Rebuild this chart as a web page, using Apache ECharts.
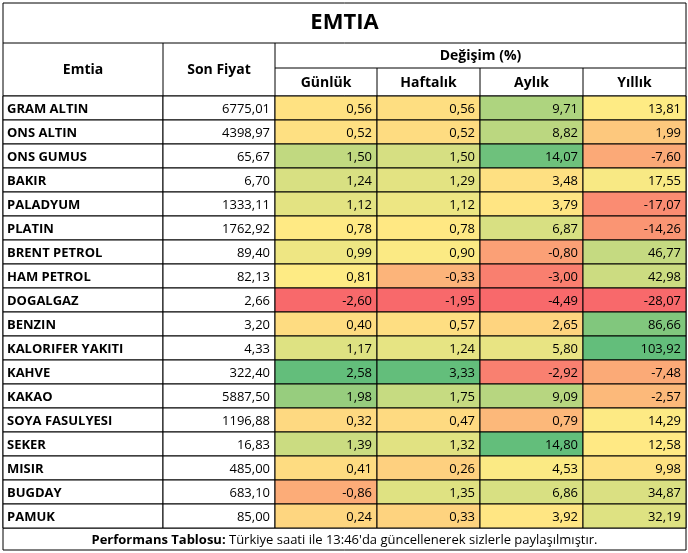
<!DOCTYPE html>
<html>
<head><meta charset="utf-8"></head>
<body style="margin:0;background:#fff">
<div id="container" style="width:688px;height:553px"></div>
<script src="https://cdn.jsdelivr.net/npm/echarts@6/dist/echarts.min.js"></script>
<script>
var names = ['GRAM ALTIN','ONS ALTIN','ONS GUMUS','BAKIR','PALADYUM','PLATIN','BRENT PETROL','HAM PETROL','DOGALGAZ','BENZIN','KALORIFER YAKITI','KAHVE','KAKAO','SOYA FASULYESI','SEKER','MISIR','BUGDAY','PAMUK'];
var prices = ['6775,01','4398,97','65,67','6,70','1333,11','1762,92','89,40','82,13','2,66','3,20','4,33','322,40','5887,50','1196,88','16,83','485,00','683,10','85,00'];
var daily = [0.56,0.52,1.50,1.24,1.12,0.78,0.99,0.81,-2.60,0.40,1.17,2.58,1.98,0.32,1.39,0.41,-0.86,0.24];
var weekly = [0.56,0.52,1.50,1.29,1.12,0.78,0.90,-0.33,-1.95,0.57,1.24,3.33,1.75,0.47,1.32,0.26,1.35,0.33];
var monthly = [9.71,8.82,14.07,3.48,3.79,6.87,-0.80,-3.00,-4.49,2.65,5.80,-2.92,9.09,0.79,14.80,4.53,6.86,3.92];
var yearly = [13.81,1.99,-7.60,17.55,-17.07,-14.26,46.77,42.98,-28.07,86.66,103.92,-7.48,-2.57,14.29,12.58,9.98,34.87,32.19];
var colEdges = [0,160,272,374,477,580,683];

var L = 3, T = 96, RH = 24, W = 683, H = 18 * RH;
var FONT = '"Open Sans", "Liberation Sans", sans-serif';

function pct50(a){ var s=a.slice().sort(function(x,y){return x-y;}); var n=s.length,p=(n-1)*0.5,i=Math.floor(p); return s[i]+(s[Math.min(i+1,n-1)]-s[i])*(p-i); }
function mix(c1,c2,t){ return 'rgb('+c1.map(function(v,i){return Math.round(v+(c2[i]-v)*t);}).join(',')+')'; }
var RED=[248,105,107], YEL=[255,235,132], GRN=[99,190,123];
function scale(arr){
  var mn=Math.min.apply(null,arr), mx=Math.max.apply(null,arr), md=pct50(arr);
  return arr.map(function(v){ return v<=md ? mix(RED,YEL,(v-mn)/(md-mn)) : mix(YEL,GRN,(v-md)/(mx-md)); });
}
function fmt(v){ return v.toFixed(2).replace('.',','); }

var data = [];
var numCols = [daily, weekly, monthly, yearly];
var colors = numCols.map(scale);
for (var r = 0; r < names.length; r++) {
  data.push([0, r, names[r], '#ffffff']);
  data.push([1, r, prices[r], '#ffffff']);
  for (var c = 0; c < 4; c++) data.push([c + 2, r, fmt(numCols[c][r]), colors[c][r]]);
}

var chart = echarts.init(document.getElementById('container'));
var hdr = {fontFamily: FONT, fontWeight: 'bold', fontSize: 14, fill: '#000'};
function hText(x, y, t, size) {
  return {type: 'text', x: x, y: y, style: Object.assign({}, hdr, {text: t, fontSize: size || 14, align: 'center', verticalAlign: 'middle'})};
}
function line(x1,y1,x2,y2){ return {type:'line', shape:{x1:x1,y1:y1,x2:x2,y2:y2}, style:{stroke:'#000',lineWidth:1}}; }
var g = [
  {type:'rect', shape:{x:L,y:3,width:W,height:547}, style:{fill:'none',stroke:'#000',lineWidth:1}},
  hText(L + W/2, 23, 'EMTIA', 22),
  line(L,43,L+W,43), line(L,T,L+W,T), line(L,528,L+W,528),
  line(L+colEdges[1],43,L+colEdges[1],T), line(L+colEdges[2],43,L+colEdges[2],T),
  line(L+colEdges[2],68,L+W,68),
  line(L+colEdges[3],68,L+colEdges[3],T), line(L+colEdges[4],68,L+colEdges[4],T), line(L+colEdges[5],68,L+colEdges[5],T),
  hText(L+80, 70, 'Emtia'), hText(L+216, 70, 'Son Fiyat'),
  hText(L+(colEdges[2]+W)/2, 56, 'Değişim (%)'),
  hText(L+(colEdges[2]+colEdges[3])/2, 83, 'Günlük'),
  hText(L+(colEdges[3]+colEdges[4])/2, 83, 'Haftalık'),
  hText(L+(colEdges[4]+colEdges[5])/2, 83, 'Aylık'),
  hText(L+(colEdges[5]+colEdges[6])/2, 83, 'Yıllık'),
  {type:'text', x: L+W/2, y: 540, style:{rich:{b:{fontFamily:FONT,fontWeight:'bold',fontSize:13},n:{fontFamily:FONT,fontSize:13}}, text:'{b|Performans Tablosu:}{n| Türkiye saati ile 13:46\'da güncellenerek sizlerle paylaşılmıştır.}', align:'center', verticalAlign:'middle', fill:'#000'}}
];

chart.setOption({
  animation: false,
  grid: {left: L, top: T, width: W, height: H},
  xAxis: {type: 'value', min: 0, max: W, show: false},
  yAxis: {type: 'value', min: 0, max: 18, inverse: true, show: false},
  graphic: g,
  series: [{
    type: 'custom',
    data: data,
    renderItem: function (params, api) {
      var col = api.value(0), row = api.value(1);
      var p0 = api.coord([colEdges[col], row]), p1 = api.coord([colEdges[col + 1], row + 1]);
      var d = data[params.dataIndex];
      var left = col === 0;
      return {type: 'group', children: [
        {type: 'rect', shape: {x: p0[0], y: p0[1], width: p1[0]-p0[0], height: p1[1]-p0[1]},
         style: {fill: d[3], stroke: '#000', lineWidth: 1}},
        {type: 'text', x: left ? p0[0] + 4 : p1[0] - 5, y: (p0[1]+p1[1])/2 + 1,
         style: {text: d[2], fontFamily: FONT, fontSize: 13, fontWeight: left ? 'bold' : 'normal',
                 align: left ? 'left' : 'right', verticalAlign: 'middle', fill: '#000'}}
      ]};
    }
  }]
});
</script>
</body>
</html>
